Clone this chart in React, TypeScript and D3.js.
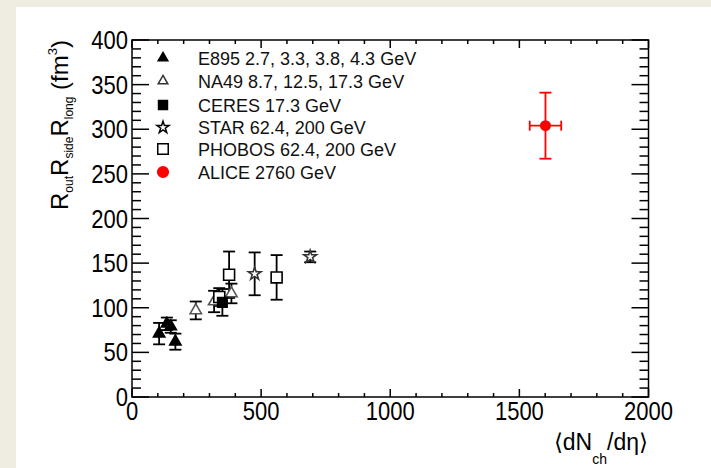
import React, { useRef, useEffect } from "react";
import * as d3 from "d3";

// values
const e895X = [105, 135, 150, 168];
const e895Y = [71, 82, 79, 62];
const e895Err = [12, 7, 7, 9];

const na49X = [247, 318, 385];
const na49Y = [97, 107, 116];
const na49Err = [10, 12, 11];

const ceresX = [350];
const ceresY = [106];
const ceresErr = [15];

const starX = [475, 690];
const starY = [138, 157];
const starErr = [24, 6];

const phobosX = [338, 376, 560];
const phobosY = [112, 137, 134];
const phobosErr = [10, 26, 25];

const aliceX = [1601];
const aliceY = [304];
const aliceErrY = [37];
const aliceErrX = [61];

const legendLabels = [
  "E895 2.7, 3.3, 3.8, 4.3 GeV",
  "NA49 8.7, 12.5, 17.3 GeV",
  "CERES 17.3 GeV",
  "STAR 62.4, 200 GeV",
  "PHOBOS 62.4, 200 GeV",
  "ALICE 2760 GeV",
];

const xMajorTicks = [0, 500, 1000, 1500, 2000];
const yMajorTicks = [0, 50, 100, 150, 200, 250, 300, 350, 400];

const W = 711;
const H = 468;
const FONT = "'Liberation Sans', Arial, Helvetica, sans-serif";

const App = () => {
  const svgRef = useRef(null);

  useEffect(() => {
    const svg = d3.select(svgRef.current);
    svg.selectAll("*").remove();

    // page background / frame
    svg.append("rect").attr("width", W).attr("height", H).attr("fill", "#efece2");
    svg.append("rect").attr("x", 16).attr("y", 7).attr("width", W - 16).attr("height", H - 7).attr("fill", "#ffffff");

    const left = 132, right = 648.5, top = 40, bottom = 397;
    const x = d3.scaleLinear().domain([0, 2000]).range([left, right]);
    const y = d3.scaleLinear().domain([0, 400]).range([bottom, top]);

    // frame
    svg
      .append("rect")
      .attr("x", left)
      .attr("y", top)
      .attr("width", right - left)
      .attr("height", bottom - top)
      .attr("fill", "none")
      .attr("stroke", "#000")
      .attr("stroke-width", 1.5);

    const ticks = svg.append("g").attr("stroke", "#000").attr("stroke-width", 1.5);

    // x ticks (bottom + top)
    d3.range(0, 2001, 100).forEach((v) => {
      const len = v % 500 === 0 ? 8 : 4;
      ticks.append("line").attr("x1", x(v)).attr("x2", x(v)).attr("y1", bottom).attr("y2", bottom - len);
      ticks.append("line").attr("x1", x(v)).attr("x2", x(v)).attr("y1", top).attr("y2", top + len);
    });
    // y ticks (left + right)
    d3.range(0, 401, 10).forEach((v) => {
      const len = v % 50 === 0 ? 17 : 9;
      ticks.append("line").attr("x1", left).attr("x2", left + len).attr("y1", y(v)).attr("y2", y(v));
      ticks.append("line").attr("x1", right).attr("x2", right - len).attr("y1", y(v)).attr("y2", y(v));
    });

    // tick labels (slightly condensed like the original)
    svg
      .append("g")
      .selectAll("text")
      .data(xMajorTicks)
      .join("text")
      .attr("transform", (d) => `translate(${x(d)},${bottom + 23}) scale(0.88,1)`)
      .attr("text-anchor", "middle")
      .attr("font-family", FONT)
      .attr("font-size", 25)
      .text((d) => d);

    svg
      .append("g")
      .selectAll("text")
      .data(yMajorTicks)
      .join("text")
      .attr("transform", (d) => `translate(${left - 4},${y(d) + 9}) scale(0.88,1)`)
      .attr("text-anchor", "end")
      .attr("font-family", FONT)
      .attr("font-size", 25)
      .text((d) => d);

    // axis titles
    const xt = svg
      .append("text")
      .attr("x", 648)
      .attr("y", 450)
      .attr("text-anchor", "end")
      .attr("font-family", FONT)
      .attr("font-size", 23);
    xt.append("tspan").text("\u27E8dN");
    xt.append("tspan").attr("dy", 14).attr("font-size", 14).text("ch");
    xt.append("tspan").attr("dy", -14).text("/d\u03B7\u27E9");

    const yt = svg
      .append("text")
      .attr("transform", `translate(68,${top}) rotate(-90)`)
      .attr("text-anchor", "end")
      .attr("font-family", FONT)
      .attr("font-size", 24);
    yt.append("tspan").text("R");
    yt.append("tspan").attr("dy", 5).attr("font-size", 12).text("out");
    yt.append("tspan").attr("dy", -5).text("R");
    yt.append("tspan").attr("dy", 5).attr("font-size", 12).text("side");
    yt.append("tspan").attr("dy", -5).text("R");
    yt.append("tspan").attr("dy", 5).attr("font-size", 12).text("long");
    yt.append("tspan").attr("dy", -5).text(" (fm");
    yt.append("tspan").attr("dy", -11).attr("font-size", 13).text("3");
    yt.append("tspan").attr("dy", 11).text(")");

    // series definitions
    const series = [
      { xs: e895X, ys: e895Y, err: e895Err, type: d3.symbolTriangle, size: 55, fill: "#000", stroke: "#000" },
      { xs: na49X, ys: na49Y, err: na49Err, type: d3.symbolTriangle, size: 55, fill: "#fff", stroke: "#555" },
      { xs: phobosX, ys: phobosY, err: phobosErr, type: d3.symbolSquare, size: 120, fill: "#fff", stroke: "#000" },
      { xs: ceresX, ys: ceresY, err: ceresErr, type: d3.symbolSquare, size: 90, fill: "#000", stroke: "#000" },
      { xs: starX, ys: starY, err: starErr, type: d3.symbolStar, size: 50, fill: "#fff", stroke: "#333" },
    ];

    const errG = svg.append("g").attr("stroke", "#000").attr("stroke-width", 1.8);
    series.forEach((s) => {
      s.xs.forEach((xv, i) => {
        const px = x(xv);
        const y1 = y(s.ys[i] + s.err[i]);
        const y2 = y(s.ys[i] - s.err[i]);
        errG.append("line").attr("x1", px).attr("x2", px).attr("y1", y1).attr("y2", y2);
        errG.append("line").attr("x1", px - 6).attr("x2", px + 6).attr("y1", y1).attr("y2", y1);
        errG.append("line").attr("x1", px - 6).attr("x2", px + 6).attr("y1", y2).attr("y2", y2);
      });
    });

    series.forEach((s) => {
      svg
        .append("g")
        .selectAll("path")
        .data(s.xs.map((xv, i) => [xv, s.ys[i]]))
        .join("path")
        .attr("transform", (d) => `translate(${x(d[0])},${y(d[1])})`)
        .attr("d", d3.symbol().type(s.type).size(s.size))
        .attr("fill", s.fill)
        .attr("stroke", s.stroke)
        .attr("stroke-width", 1.6);
    });

    // ALICE point with x and y errors
    const red = "#ff0000";
    const aG = svg.append("g").attr("stroke", red).attr("stroke-width", 1.8);
    aliceX.forEach((xv, i) => {
      const px = x(xv), py = y(aliceY[i]);
      const y1 = y(aliceY[i] + aliceErrY[i]), y2 = y(aliceY[i] - aliceErrY[i]);
      const x1 = x(xv - aliceErrX[i]), x2 = x(xv + aliceErrX[i]);
      aG.append("line").attr("x1", px).attr("x2", px).attr("y1", y1).attr("y2", y2);
      aG.append("line").attr("x1", px - 6).attr("x2", px + 6).attr("y1", y1).attr("y2", y1);
      aG.append("line").attr("x1", px - 6).attr("x2", px + 6).attr("y1", y2).attr("y2", y2);
      aG.append("line").attr("x1", x1).attr("x2", x2).attr("y1", py).attr("y2", py);
      aG.append("line").attr("x1", x1).attr("x2", x1).attr("y1", py - 5).attr("y2", py + 5);
      aG.append("line").attr("x1", x2).attr("x2", x2).attr("y1", py - 5).attr("y2", py + 5);
      svg.append("circle").attr("cx", px).attr("cy", py).attr("r", 5.5).attr("fill", red);
    });

    // legend
    const legendMarkers = [
      { type: d3.symbolTriangle, size: 40, fill: "#000", stroke: "#000" },
      { type: d3.symbolTriangle, size: 40, fill: "#fff", stroke: "#333" },
      { type: d3.symbolSquare, size: 80, fill: "#000", stroke: "#000" },
      { type: d3.symbolStar, size: 45, fill: "#fff", stroke: "#000" },
      { type: d3.symbolSquare, size: 110, fill: "#fff", stroke: "#000" },
      { type: d3.symbolCircle, size: 90, fill: red, stroke: red },
    ];
    const legendY = [58, 81, 105, 127.5, 149, 172];
    const lg = svg.append("g");
    legendLabels.forEach((label, i) => {
      const m = legendMarkers[i];
      lg.append("path")
        .attr("transform", `translate(163,${legendY[i]})`)
        .attr("d", d3.symbol().type(m.type).size(m.size))
        .attr("fill", m.fill)
        .attr("stroke", m.stroke)
        .attr("stroke-width", 1.5);
      lg.append("text")
        .attr("x", 198)
        .attr("y", legendY[i] + 6.5)
        .attr("font-family", FONT)
        .attr("font-size", 18)
        .attr("fill", "#111")
        .text(label);
    });
  }, []);

  return (
    <div style={{ position: "absolute", left: 0, top: 0, width: W, height: H }}>
      <svg ref={svgRef} width={W} height={H} style={{ display: "block" }} />
    </div>
  );
};

export default App;
